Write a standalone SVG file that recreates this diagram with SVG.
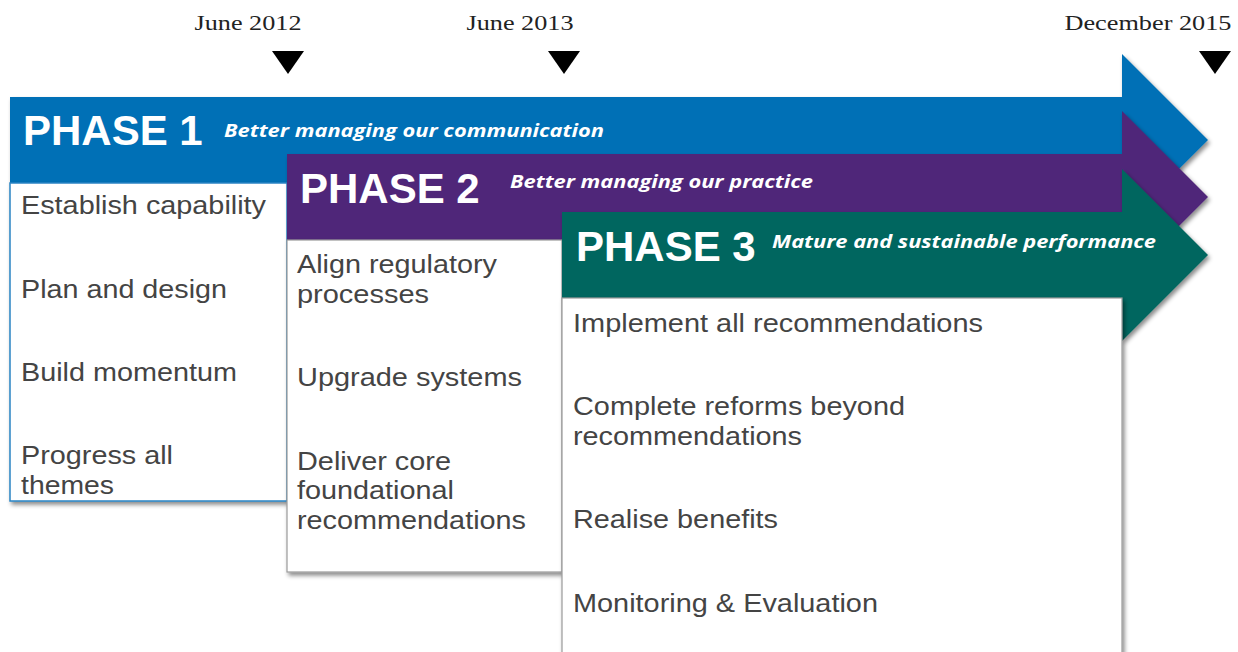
<svg xmlns="http://www.w3.org/2000/svg" width="1238" height="652" viewBox="0 0 1238 652">
<defs>
<filter id="sh" x="-5%" y="-10%" width="115%" height="130%">
<feDropShadow dx="2" dy="3" stdDeviation="2" flood-color="#000" flood-opacity="0.45"/>
</filter>
<style>
.date{font-family:"Liberation Serif",serif;font-size:22px;fill:#222}
.tri{fill:#000}
.ph{font-family:"Liberation Sans",Arial,sans-serif;font-size:42px;font-weight:bold;fill:#fff}
.sub{font-family:"Open Sans","Liberation Sans",sans-serif;font-size:18px;font-weight:bold;font-style:italic;fill:#fff}
.item{font-family:"Liberation Sans",Arial,sans-serif;font-size:26px;fill:#444}
.box{fill:#fff;stroke:#9a9a9a;stroke-width:1.2}
</style>
</defs>
<rect width="1238" height="652" fill="#fff"/>
<g id="timeline">
<text class="date" x="248" y="30" text-anchor="middle" textLength="107" lengthAdjust="spacingAndGlyphs">June 2012</text>
<polygon class="tri" points="272,51 304,51 288,74"/>
<text class="date" x="520" y="30" text-anchor="middle" textLength="107" lengthAdjust="spacingAndGlyphs">June 2013</text>
<polygon class="tri" points="548,51 580,51 564,74"/>
<text class="date" x="1148" y="30" text-anchor="middle" textLength="167" lengthAdjust="spacingAndGlyphs">December 2015</text>
<polygon class="tri" points="1199,51 1231,51 1215,74"/>
</g>
<g id="phase1">
<polygon points="10,97 1122,97 1122,54 1208,140 1122,226 1122,183 10,183" fill="#0170B6" filter="url(#sh)"/>
<text class="ph" x="23" y="145">PHASE 1</text>
<text class="sub" x="224" y="137" textLength="380" lengthAdjust="spacingAndGlyphs">Better managing our communication</text>
<rect x="10" y="183" width="277" height="318" fill="#fff" stroke="#2a84c4" stroke-width="1.5" filter="url(#sh)"/>
<text class="item" x="21" y="214" textLength="245" lengthAdjust="spacingAndGlyphs">Establish capability</text>
<text class="item" x="21" y="298" textLength="206" lengthAdjust="spacingAndGlyphs">Plan and design</text>
<text class="item" x="21" y="381" textLength="216" lengthAdjust="spacingAndGlyphs">Build momentum</text>
<text class="item" x="21" y="464" textLength="152" lengthAdjust="spacingAndGlyphs">Progress all</text>
<text class="item" x="21" y="494" textLength="93" lengthAdjust="spacingAndGlyphs">themes</text>
</g>
<g id="phase2">
<polygon points="287,154 1122,154 1122,111 1208,197 1122,283 1122,240 287,240" fill="#4F2779" filter="url(#sh)"/>
<text class="ph" x="300" y="203">PHASE 2</text>
<text class="sub" x="510" y="188" textLength="303" lengthAdjust="spacingAndGlyphs">Better managing our practice</text>
<rect class="box" x="287" y="240" width="275" height="332" filter="url(#sh)"/>
<text class="item" x="297" y="273" textLength="200" lengthAdjust="spacingAndGlyphs">Align regulatory</text>
<text class="item" x="297" y="303" textLength="132" lengthAdjust="spacingAndGlyphs">processes</text>
<text class="item" x="297" y="386" textLength="225" lengthAdjust="spacingAndGlyphs">Upgrade systems</text>
<text class="item" x="297" y="470" textLength="154" lengthAdjust="spacingAndGlyphs">Deliver core</text>
<text class="item" x="297" y="499" textLength="157" lengthAdjust="spacingAndGlyphs">foundational</text>
<text class="item" x="297" y="529" textLength="229" lengthAdjust="spacingAndGlyphs">recommendations</text>
</g>
<g id="phase3">
<polygon points="562,212 1122,212 1122,169 1208,255 1122,341 1122,298 562,298" fill="#00665F" filter="url(#sh)"/>
<text class="ph" x="576" y="261">PHASE 3</text>
<text class="sub" x="772" y="248" textLength="384" lengthAdjust="spacingAndGlyphs">Mature and sustainable performance</text>
<rect class="box" x="562" y="298" width="560" height="370" filter="url(#sh)"/>
<text class="item" x="573" y="332" textLength="410" lengthAdjust="spacingAndGlyphs">Implement all recommendations</text>
<text class="item" x="573" y="415" textLength="332" lengthAdjust="spacingAndGlyphs">Complete reforms beyond</text>
<text class="item" x="573" y="445" textLength="229" lengthAdjust="spacingAndGlyphs">recommendations</text>
<text class="item" x="573" y="528" textLength="205" lengthAdjust="spacingAndGlyphs">Realise benefits</text>
<text class="item" x="573" y="612" textLength="305" lengthAdjust="spacingAndGlyphs">Monitoring &amp; Evaluation</text>
</g>
<g id="connectors"/>
</svg>
